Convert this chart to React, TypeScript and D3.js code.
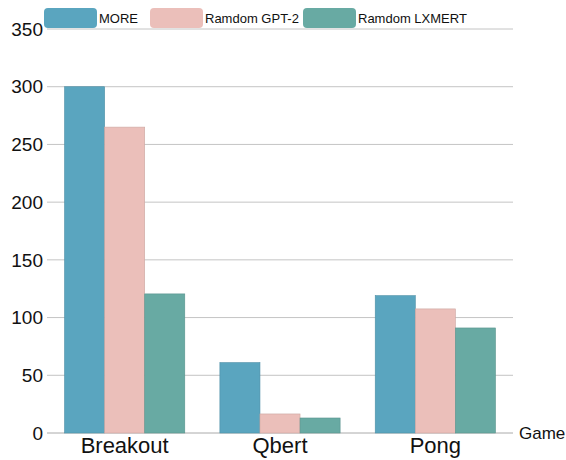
import React, { useEffect, useRef } from 'react';
import * as d3 from 'd3';

const games = ['Breakout', 'Qbert', 'Pong'];
const seriesNames = ['MORE', 'Ramdom GPT-2', 'Ramdom LXMERT'];
const moreValues = [300, 61, 119];
const gpt2Values = [265, 16.5, 107.5];
const lxmertValues = [120.5, 13, 91];
const yTicks = [0, 50, 100, 150, 200, 250, 300, 350];
const colors = ['#5aa5bf', '#ebbfba', '#68aaa3'];

export default function App() {
  const svgRef = useRef<SVGSVGElement>(null);

  useEffect(() => {
    const svg = d3.select(svgRef.current);
    svg.selectAll('*').remove();

    const font = '"Liberation Sans", Arial, sans-serif';
    const left = 47, right = 513, top = 29, bottom = 433;

    const x = d3.scaleBand().domain(games).range([left, right])
      .paddingInner(0.226).paddingOuter(0.113);
    const xs = d3.scaleBand().domain(seriesNames).range([0, x.bandwidth()]);
    const y = d3.scaleLinear().domain([0, 350]).range([bottom, top]);

    // grid + y labels
    const g = svg.append('g');
    yTicks.forEach(t => {
      g.append('line')
        .attr('x1', left).attr('x2', right)
        .attr('y1', y(t)).attr('y2', y(t))
        .attr('stroke', t === 0 ? '#aaa' : '#c4c4c4').attr('stroke-width', 1);
      g.append('text')
        .attr('x', 43).attr('y', y(t)).attr('dy', '0.35em')
        .attr('text-anchor', 'end').attr('font-family', font).attr('font-size', 19)
        .attr('fill', '#111').text(t);
    });

    const series = [moreValues, gpt2Values, lxmertValues];
    series.forEach((vals, si) => {
      svg.append('g').selectAll('rect').data(vals).enter().append('rect')
        .attr('x', (d, i) => (x(games[i]) || 0) + (xs(seriesNames[si]) || 0))
        .attr('y', d => y(d))
        .attr('width', xs.bandwidth())
        .attr('height', d => bottom - y(d))
        .attr('fill', colors[si])
        .attr('stroke', d3.color(colors[si])!.darker(0.4).toString())
        .attr('stroke-width', 0.6);
    });

    // x labels
    games.forEach(gm => {
      svg.append('text')
        .attr('x', (x(gm) || 0) + x.bandwidth() / 2).attr('y', 453)
        .attr('text-anchor', 'middle').attr('font-family', font).attr('font-size', 22)
        .attr('fill', '#111').text(gm);
    });
    svg.append('text')
      .attr('x', 519).attr('y', 439)
      .attr('font-family', font).attr('font-size', 17)
      .attr('fill', '#111').text('Game');

    // legend
    const legendX = [44, 150, 303];
    seriesNames.forEach((s, i) => {
      svg.append('rect')
        .attr('x', legendX[i]).attr('y', 8).attr('width', 53).attr('height', 20)
        .attr('rx', 4).attr('fill', colors[i]);
    });
    seriesNames.forEach((s, i) => {
      svg.append('text')
        .attr('x', legendX[i] + 55).attr('y', 18).attr('dy', '0.35em')
        .attr('font-family', font).attr('font-size', 13)
        .attr('fill', '#111').text(s);
    });
  }, []);

  return (
    <svg ref={svgRef} width={566} height={460}
      style={{ position: 'absolute', left: 0, top: 0, background: '#fff' }} />
  );
}
